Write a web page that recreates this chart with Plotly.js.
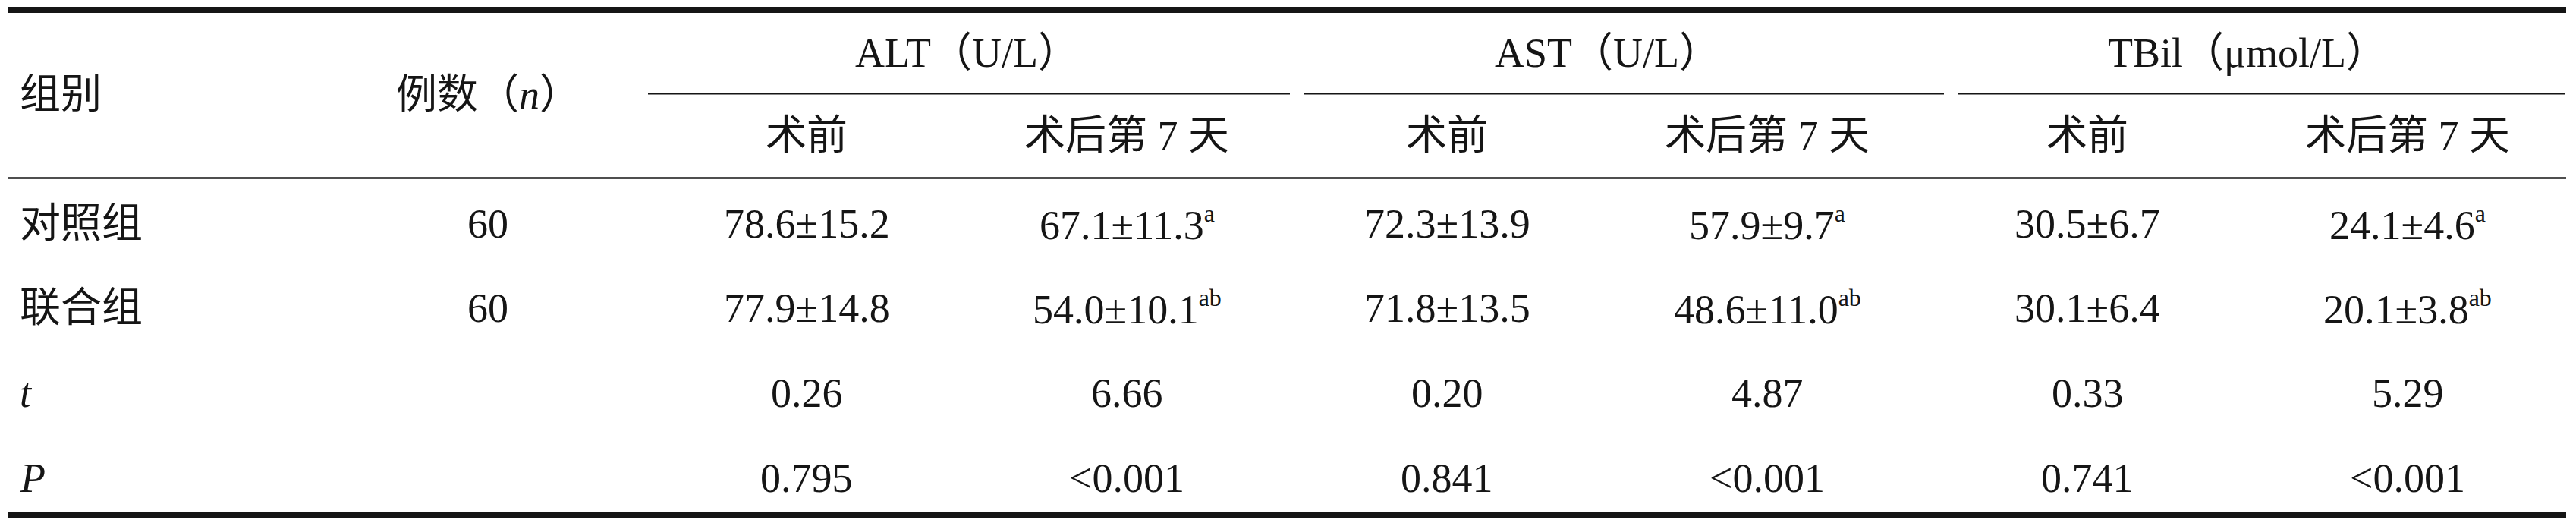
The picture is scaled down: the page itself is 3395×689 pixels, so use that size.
<!DOCTYPE html>
<html>
<head>
<meta charset="utf-8">
<script src="https://cdn.plot.ly/plotly-3.0.1.min.js"></script>
<style>html,body{margin:0;padding:0;background:#fff;}</style>
</head>
<body>
<div id="chart" style="width:3395px;height:689px;"></div>
<script>
// ---- data ----
const groupHeader = '组别';
const nHeader = '例数（<i>n</i>）';
const indicators = ['ALT（U/L）', 'AST（U/L）', 'TBil（μmol/L）'];
const timepoints = ['术前', '术后第 7 天'];
const rowLabels = ['对照组', '联合组', '<i>t</i>', '<i>P</i>'];
const nValues = ['60', '60', '', ''];
const altPre = ['78.6±15.2', '77.9±14.8', '0.26', '0.795'];
const altPost = ['67.1±11.3', '54.0±10.1', '6.66', '<0.001'];
const astPre = ['72.3±13.9', '71.8±13.5', '0.20', '0.841'];
const astPost = ['57.9±9.7', '48.6±11.0', '4.87', '<0.001'];
const tbilPre = ['30.5±6.7', '30.1±6.4', '0.33', '0.741'];
const tbilPost = ['24.1±4.6', '20.1±3.8', '5.29', '<0.001'];
const postMarks = ['a', 'ab', '', ''];

// ---- layout constants ----
const W = 3395, H = 689;
const FONT = "'Liberation Serif', 'Noto Sans CJK SC', serif";
const FS = 54;
const INK = '#151515';
const xLeft = 11, xRight = 3382;
const xGroupLabel = 24, xN = 643;
const xFirstVal = 1063, colStep = 422;
const yHead1 = 70, yHead2 = 179, yHeadSpan = 125;
const yRows = [295, 406, 518, 630];
const groupLines = [[854, 1700], [1719, 2562], [2581, 3381]];

const valueCols = [
  {vals: altPre, marks: null},
  {vals: altPost, marks: postMarks},
  {vals: astPre, marks: null},
  {vals: astPost, marks: postMarks},
  {vals: tbilPre, marks: null},
  {vals: tbilPost, marks: postMarks}
];

function esc(s) { return s.replace(/</g, '&lt;'); }

const ann = [];
function addText(x, y, text, xanchor) {
  ann.push({x: x, y: y, xref: 'x', yref: 'y', text: text, showarrow: false,
    xanchor: xanchor || 'center', yanchor: 'middle',
    font: {family: FONT, size: FS, color: INK}});
}

addText(xGroupLabel, yHeadSpan, groupHeader, 'left');
addText(xN, yHeadSpan, nHeader);
indicators.forEach((t, i) => {
  const cx = xFirstVal + colStep * (2 * i) + colStep / 2;
  addText(cx, yHead1, t);
  timepoints.forEach((tp, j) => addText(xFirstVal + colStep * (2 * i + j), yHead2, tp));
});
rowLabels.forEach((r, k) => {
  addText(xGroupLabel, yRows[k], r, 'left');
  if (nValues[k]) addText(xN, yRows[k], nValues[k]);
});
valueCols.forEach((c, i) => {
  const cx = xFirstVal + colStep * i;
  c.vals.forEach((v, k) => {
    let t = esc(v);
    if (c.marks && c.marks[k]) t += '<sup><span style="font-size:32px">' + c.marks[k] + '</span></sup>';
    addText(cx, yRows[k], t);
  });
});

const shapes = [];
function hline(x0, x1, y, w) {
  shapes.push({type: 'line', xref: 'x', yref: 'y', x0: x0, x1: x1, y0: y, y1: y,
    line: {color: INK, width: w}});
}
hline(xLeft, xRight, 13, 8);
groupLines.forEach(g => hline(g[0], g[1], 123.5, 2));
hline(xLeft, xRight, 234.5, 2.5);
hline(xLeft, xRight, 678, 8);

const layout = {
  width: W, height: H,
  margin: {l: 0, r: 0, t: 0, b: 0, pad: 0},
  paper_bgcolor: '#ffffff', plot_bgcolor: '#ffffff',
  xaxis: {range: [0, W], visible: false, fixedrange: true},
  yaxis: {range: [H, 0], visible: false, fixedrange: true},
  showlegend: false,
  annotations: ann,
  shapes: shapes
};

Plotly.newPlot('chart', [{x: [], y: [], type: 'scatter', mode: 'markers', hoverinfo: 'skip'}], layout,
  {staticPlot: true, displayModeBar: false});
</script>
</body>
</html>
